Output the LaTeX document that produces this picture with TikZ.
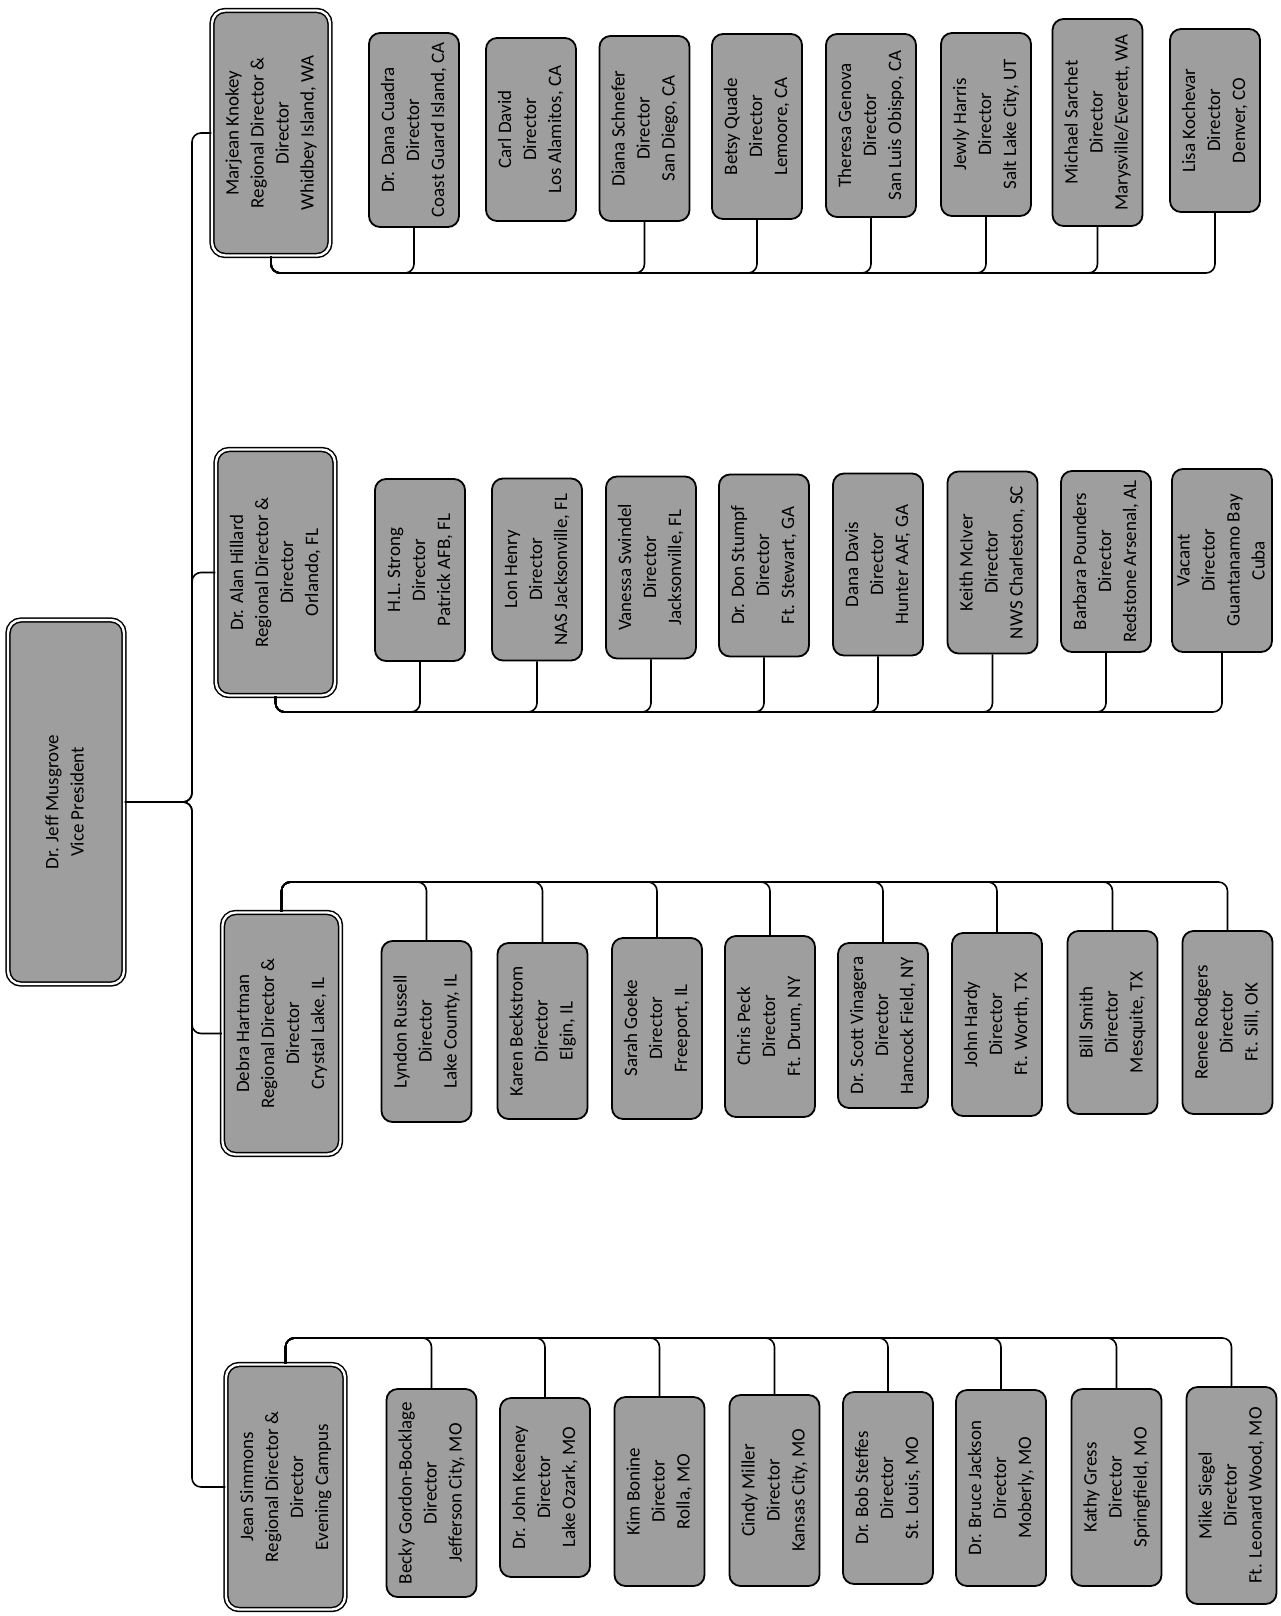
\documentclass[tikz,border=0pt]{standalone}
\usepackage{fontspec}
\setmainfont{Carlito}
\usepackage{graphicx}
\newcommand{\bx}[1]{\rotatebox{90}{\begin{tabular}{@{}c@{}}#1\end{tabular}}}
\tikzset{
  box/.style={draw, line width=1.8pt, rounded corners=11pt, fill=black!38, inner sep=0pt,
    font=\fontsize{19}{25}\selectfont},
  child/.style={box, minimum width=90pt},
  head/.style={box, double, double distance=2.4pt, line width=1.5pt, rounded corners=13pt},
  conn/.style={line width=1.6pt, rounded corners=9pt},
}
\begin{document}
\begin{tikzpicture}[x=1pt,y=-1pt]
\useasboundingbox (0,0) rectangle (1281,1616);
\fill[white] (0,0) rectangle (1281,1616);

% Vice President
\node[head, minimum width=116pt, minimum height=364pt] (vp) at (66,802)
  {\bx{Dr. Jeff Musgrove\\Vice President}};

% Regional heads
\node[head, minimum width=118pt, minimum height=245pt] (r1) at (271,133)
  {\bx{Marjean Knokey\\Regional Director \&\\Director\\Whidbey Island, WA}};
\node[head, minimum width=119pt, minimum height=246pt] (r2) at (275.5,572.5)
  {\bx{Dr. Alan Hillard\\Regional Director \&\\Director\\Orlando, FL}};
\node[head, minimum width=118pt, minimum height=242pt] (r3) at (281.5,1033.5)
  {\bx{Debra Hartman\\Regional Director \&\\Director\\Crystal Lake, IL}};
\node[head, minimum width=119pt, minimum height=245pt] (r4) at (285.5,1487)
  {\bx{Jean Simmons\\Regional Director \&\\Director\\Evening Campus}};

% Group 1
\node[child, minimum height=194pt] (g1a) at (414,130) {\bx{Dr. Dana Cuadra\\Director\\Coast Guard Island, CA}};
\node[child, minimum height=183pt] (g1b) at (531,129.5) {\bx{Carl David\\Director\\Los Alamitos, CA}};
\node[child, minimum height=185pt] (g1c) at (644.5,128.5) {\bx{Diana Schnefer\\Director\\San Diego, CA}};
\node[child, minimum height=185pt] (g1d) at (757,126.5) {\bx{Betsy Quade\\Director\\Lemoore, CA}};
\node[child, minimum height=183pt] (g1e) at (871,125.5) {\bx{Theresa Genova\\Director\\San Luis Obispo, CA}};
\node[child, minimum height=183pt] (g1f) at (986,124.5) {\bx{Jewly Harris\\Director\\Salt Lake City, UT}};
\node[child, minimum height=207pt] (g1g) at (1097.5,122.5) {\bx{Michael Sarchet\\Director\\Marysville/Everett, WA}};
\node[child, minimum height=183pt] (g1h) at (1215,120.5) {\bx{Lisa Kochevar\\Director\\Denver, CO}};

% Group 2
\node[child, minimum height=182pt] (g2a) at (420,570) {\bx{H.L. Strong\\Director\\Patrick AFB, FL}};
\node[child, minimum height=182pt] (g2b) at (537,569.5) {\bx{Lon Henry\\Director\\NAS Jacksonville, FL}};
\node[child, minimum height=182pt] (g2c) at (651,567.5) {\bx{Vanessa Swindel\\Director\\Jacksonville, FL}};
\node[child, minimum height=182pt] (g2d) at (764,565.5) {\bx{Dr. Don Stumpf\\Director\\Ft. Stewart, GA}};
\node[child, minimum height=182pt] (g2e) at (878,564.5) {\bx{Dana Davis\\Director\\Hunter AAF, GA}};
\node[child, minimum height=182pt] (g2f) at (992.5,562.5) {\bx{Keith McIver\\Director\\NWS Charleston, SC}};
\node[child, minimum height=181pt] (g2g) at (1106,561.5) {\bx{Barbara Pounders\\Director\\Redstone Arsenal, AL}};
\node[child, minimum height=183pt] (g2h) at (1222,560.5) {\bx{Vacant\\Director\\Guantanamo Bay\\Cuba}};

% Group 3
\node[child, minimum height=181pt] (g3a) at (426.5,1031.5) {\bx{Lyndon Russell\\Director\\Lake County, IL}};
\node[child, minimum height=176pt] (g3b) at (542.5,1031) {\bx{Karen Beckstrom\\Director\\Elgin, IL}};
\node[child, minimum height=181pt] (g3c) at (657,1028.5) {\bx{Sarah Goeke\\Director\\Freeport, IL}};
\node[child, minimum height=181pt] (g3d) at (770,1026.5) {\bx{Chris Peck\\Director\\Ft. Drum, NY}};
\node[child, minimum height=165pt] (g3e) at (883,1025.5) {\bx{Dr. Scott Vinagera\\Director\\Hancock Field, NY}};
\node[child, minimum height=183pt] (g3f) at (997,1024.5) {\bx{John Hardy\\Director\\Ft. Worth, TX}};
\node[child, minimum height=183pt] (g3g) at (1112.5,1022.5) {\bx{Bill Smith\\Director\\Mesquite, TX}};
\node[child, minimum height=183pt] (g3h) at (1227.5,1022.5) {\bx{Renee Rodgers\\Director\\Ft. Sill, OK}};

% Group 4
\node[child, minimum height=208pt] (g4a) at (431.5,1493) {\bx{Becky Gordon-Bocklage\\Director\\Jefferson City, MO}};
\node[child, minimum height=179pt] (g4b) at (545,1487.5) {\bx{Dr. John Keeney\\Director\\Lake Ozark, MO}};
\node[child, minimum height=189pt] (g4c) at (659.5,1491.5) {\bx{Kim Bonine\\Director\\Rolla, MO}};
\node[child, minimum height=191pt] (g4d) at (774.5,1490.5) {\bx{Cindy Miller\\Director\\Kansas City, MO}};
\node[child, minimum height=192pt] (g4e) at (888,1488) {\bx{Dr. Bob Steffes\\Director\\St. Louis, MO}};
\node[child, minimum height=196pt] (g4f) at (1001,1488) {\bx{Dr. Bruce Jackson\\Director\\Moberly, MO}};
\node[child, minimum height=197pt] (g4g) at (1116.5,1487.5) {\bx{Kathy Gress\\Director\\Springfield, MO}};
\node[child, minimum height=217pt] (g4h) at (1231.5,1495.5) {\bx{Mike Siegel\\Director\\Ft. Leonard Wood, MO}};

% Trunk
\coordinate (tj) at (192,802);
\foreach \r in {r1,r2,r3,r4}
  \draw[conn] (vp.east) -- (tj) |- (\r.west);

% Buses
\coordinate (b1) at (0,273);
\coordinate (b2) at (0,712);
\coordinate (b3) at (0,882);
\coordinate (b4) at (0,1338);
\foreach \c in {g1a,g1c,g1d,g1e,g1f,g1g,g1h}
  \draw[conn] (r1.south) -- (r1.south |- b1) -| (\c.south);
\foreach \c in {g2a,g2b,g2c,g2d,g2e,g2f,g2g,g2h}
  \draw[conn] (r2.south) -- (r2.south |- b2) -| (\c.south);
\foreach \c in {g3a,g3b,g3c,g3d,g3e,g3f,g3g,g3h}
  \draw[conn] (r3.north) -- (r3.north |- b3) -| (\c.north);
\foreach \c in {g4a,g4b,g4c,g4d,g4e,g4f,g4g,g4h}
  \draw[conn] (r4.north) -- (r4.north |- b4) -| (\c.north);
\end{tikzpicture}
\end{document}
